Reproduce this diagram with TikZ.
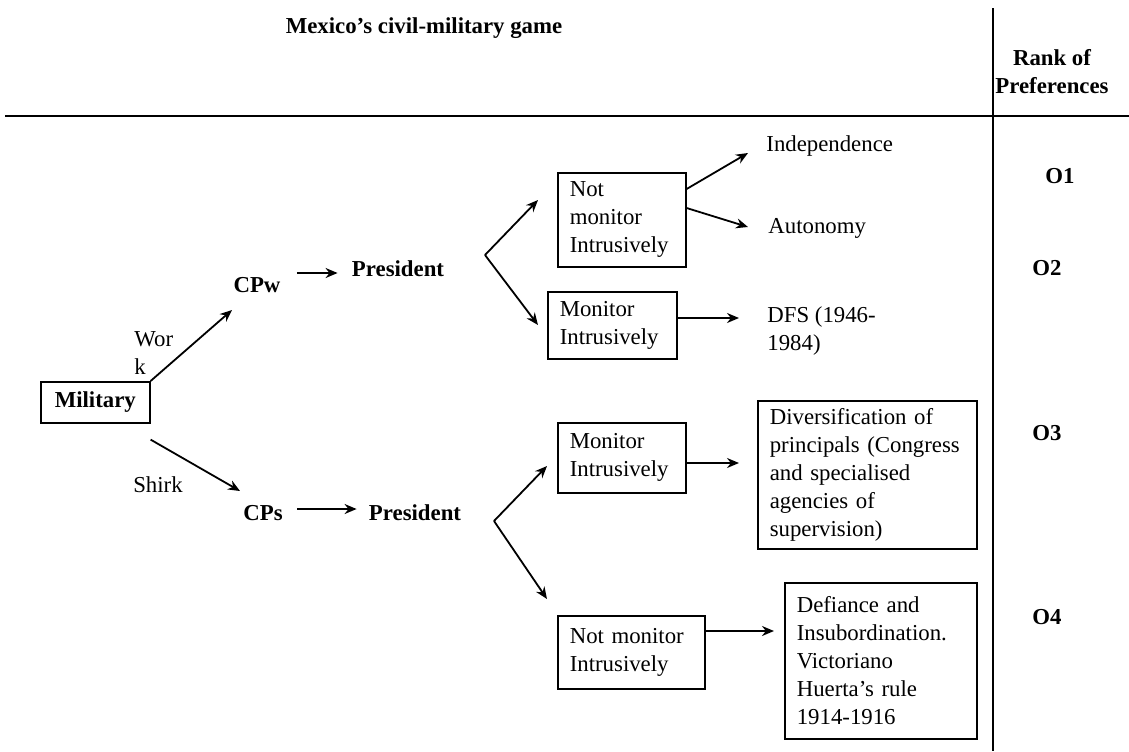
\documentclass[tikz,border=0pt]{standalone}
\usepackage{fontspec}
\setmainfont{Liberation Serif}
\usetikzlibrary{arrows.meta}
\begin{document}
\begin{tikzpicture}[x=0.5pt,y=-0.5pt,
  every node/.style={font=\fontsize{11.4}{14}\selectfont, inner sep=0pt},
  lbl/.style={font=\fontsize{11.4}{14}\selectfont\bfseries},
  box/.style={draw, line width=0.8pt, align=left, inner xsep=6pt, inner ysep=0pt, anchor=north west},
  arr/.style={-{Stealth[length=6pt,width=5pt]}, line width=0.9pt},
  rule/.style={line width=0.9pt}]
\useasboundingbox (0,0) rectangle (1129,751);

% frame lines
\coordinate (hl) at (5,116);
\coordinate (hr) at (1129,116);
\coordinate (vt) at (993,8);
\coordinate (vb) at (993,751);
\draw[rule] (hl) -- (hr);
\draw[rule] (vt) -- (vb);

% headings
\node[lbl] (title) at (424,28) {Mexico’s civil-military game};
\node[lbl, align=center] (rank) at (1052,72) {Rank of\\Preferences};

% military
\node[draw, line width=0.8pt, lbl, minimum width=54.5pt, minimum height=20.5pt, anchor=north west] (mil) at (40,381) {Military};
\node[align=left, anchor=west] (work) at (134,353.5) {Wor\\k};
\node (shirk) at (158,485) {Shirk};

\node[lbl] (cpw) at (257,285) {CPw};
\node[lbl] (pres1) at (398,269) {President};
\node[lbl] (cps) at (263,513) {CPs};
\node[lbl] (pres2) at (415,513) {President};

\coordinate (wend) at (232,310);
\coordinate (send) at (240,491);
\draw[arr] (mil.north east) -- (wend);
\draw[arr] ([yshift=-8pt]mil.south east) -- (send);
\draw[arr] ([xshift=8pt]cpw.east |- 0,273) -- ([xshift=-7pt]pres1.west |- 0,273);
\draw[arr] ([xshift=7pt]cps.east |- 0,509) -- ([xshift=-6pt]pres2.west |- 0,509);

% upper branch
\node[box, text width=52pt, minimum height=47pt] (nm1) at (557,172) {Not\\monitor\\Intrusively};
\node[box, text width=52.5pt, minimum height=33.5pt] (m1) at (547,291) {Monitor\\Intrusively};
\coordinate (f1) at (485,255);
\coordinate (f1a) at (538,200);
\coordinate (f1b) at (538,325);
\draw[arr] (f1) -- (f1a);
\draw[arr] (f1) -- (f1b);

\node[anchor=west] (indep) at (766,146) {Independence};
\node[anchor=west] (auton) at (768,228) {Autonomy};
\node[align=left, anchor=west] (dfs) at (767,331) {DFS (1946-\\1984)};
\draw[arr] (nm1.east |- 0,189) -- (748,153) coordinate (ia);
\draw[arr] (nm1.east |- 0,208) -- (748,227) coordinate (aa);
\draw[arr] (m1.east |- 0,318) -- ([xshift=-14pt]dfs.west |- 0,318);

% lower branch
\node[box, text width=52pt, minimum height=35pt] (m2) at (557,422) {Monitor\\Intrusively};
\node[box, text width=61.5pt, minimum height=36.5pt] (nm2) at (557,615) {Not monitor\\Intrusively};
\coordinate (f2) at (494,521);
\coordinate (f2a) at (547,466);
\coordinate (f2b) at (547,599);
\draw[arr] (f2) -- (f2a);
\draw[arr] (f2) -- (f2b);

\node[box, text width=97.5pt, minimum height=74pt] (div) at (757,400) {Diversification of\\principals (Congress\\and specialised\\agencies of\\supervision)};
\node[box, text width=84pt, minimum height=78pt] (def) at (784,582) {Defiance and\\Insubordination.\\Victoriano\\Huerta’s rule\\1914-1916};
\draw[arr] (m2.east |- 0,463) -- ([xshift=-9pt]div.west |- 0,463);
\draw[arr] (nm2.east |- 0,631) -- ([xshift=-5pt]def.west |- 0,631);

% ranks
\node[lbl] (o1) at (1060,176) {O1};
\node[lbl] (o2) at (1047,268) {O2};
\node[lbl] (o3) at (1047,433) {O3};
\node[lbl] (o4) at (1047,617) {O4};
\end{tikzpicture}
\end{document}
